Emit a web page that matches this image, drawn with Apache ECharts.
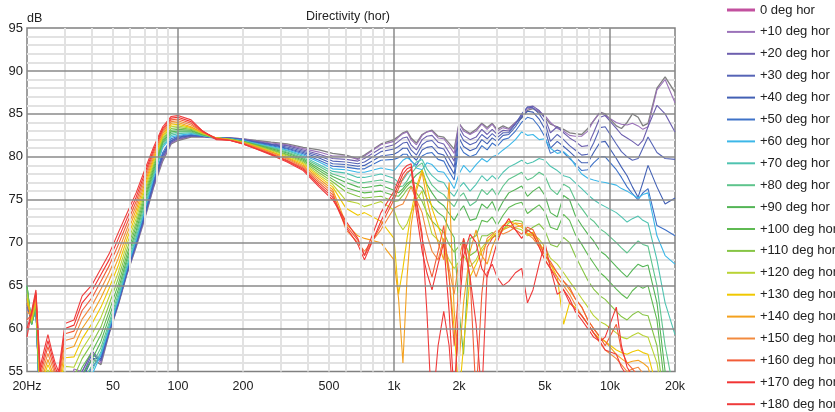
<!DOCTYPE html>
<html><head><meta charset="utf-8">
<script src="https://cdn.jsdelivr.net/npm/echarts@6/dist/echarts.min.js"></script>
<style>html,body{margin:0;padding:0;background:#fff}#c{width:835px;height:412px}</style>
</head><body><div id="c"></div>
<script>
// Frequencies (Hz) shared by all curves
const freqs = [20,21,22,23,24,25,26,27,28,30,33,36,40,44,48,53,58,64,70,77,85,93,100,115,130,150,
  175,200,230,270,320,380,450,520,600,680,730,870,
  1000,1050,1100,1150,1200,1270,1350,1420,1500,1600,1700,1800,1900,2000,2100,2250,2400,2550,2700,2850,
  3000,3200,3400,3650,3900,4150,4400,4700,5000,5300,5700,6100,6500,6900,7400,7900,8400,9000,9500,10700,
  11300,12000,12700,13500,14200,15000,16500,18000,20000];

const names = ['0 deg hor','+10 deg hor','+20 deg hor','+30 deg hor','+40 deg hor','+50 deg hor','+60 deg hor',
  '+70 deg hor','+80 deg hor','+90 deg hor','+100 deg hor','+110 deg hor','+120 deg hor','+130 deg hor',
  '+140 deg hor','+150 deg hor','+160 deg hor','+170 deg hor','+180 deg hor'];

// dB values per angle, one value per frequency above
const deg0 = [62.5,61,62.3,50,51,51.5,51,50,49,50,54.8,54.5,56.5,55.8,59.4,62.8,66.3,69.5,72.7,76.4,79.5,81.5,81.9,82.3,82.3,82.2,
  82.2,82.1,81.9,81.7,81.5,81.1,80.8,80.4,80.2,79.8,80.2,81.5,
  82.0,82.4,82.8,83.0,82.2,81.6,82.6,82.9,83.1,82.4, 82.3,81.6,80.9,83.9,83.2,82.7,83.2,83.9,83.4,83.9,
  83.2,83.6,83.3,84.0,84.5,85.4,85.6,85.2,84.6,83.8, 83.5,83.2,82.8,82.7,82.6,83.3,84.2,85.2,85.0,83.6,
  83.3,84.0,85.0,84.6,83.6,83.9,88.0,89.3,87.5];
const deg10 = [62.5,61,62.3,50,51,51.5,51,50,49,50,55.3,55.0,57.2,56.0,59.5,62.9,66.4,69.6,72.8,76.5,79.7,81.6,82.0,82.4,82.3,82.2,
  82.2,82.1,81.85,81.6,81.4,80.95,80.55,80.1,80.1,79.7,80.1,81.4,
  81.8,82.3,82.7,82.9,82.0,81.4,82.5,82.9,83.0,82.2, 82.1,81.3,80.4,83.9,83.0,82.6,83.0,83.8,83.2,83.8,
  83.0,83.4,83.2,84.0,84.7,85.6,85.7,85.3,84.8,84.0, 83.3,83.0,82.5,82.4,82.4,83.0,84.2,85.2,84.8,84.0,
  83.8,83.7,83.9,83.6,83.2,83.5,87.8,89.0,86.3];
const deg20 = [62.8,60.8,62.3,50,51,51.5,51,50,49,50,54.5,55.0,57.4,56.2,59.5,62.9,66.4,69.7,72.9,76.6,79.9,81.7,82.1,82.4,82.4,82.2,
  82.2,82.0,81.8,81.5,81.3,80.8,80.3,79.8,79.7,79.5,79.8,81.0,
  81.4,81.8,82.2,82.3,81.4,80.8,82.0,82.4,82.5,81.7, 81.5,80.5,79.5,83.5,82.5,82.0,82.3,83.2,82.6,83.2,
  82.6,83.1,83.0,83.9,84.8,85.8,85.9,85.4,84.5,82.8, 83.5,82.8,82.2,81.8,81.2,81.3,82.8,84.6,84.8,83.3,
  82.6,82.2,81.8,81.3,81.9,83.5,86.0,85.0,82.9];
const deg30 = [63,60.6,62.3,50,51,51.5,51,50,49,50,53.5,54.5,57.0,56.3,59.6,63.0,66.5,69.8,73.0,76.8,80.1,81.8,82.2,82.5,82.4,82.2,
  82.15,82.0,81.7,81.45,81.15,80.65,80.1,79.5,79.4,79.2,79.4,80.6,
  80.9,81.2,81.6,81.7,80.8,80.2,81.4,81.8,81.9,81.1, 80.9,79.8,78.8,82.9,81.9,81.4,81.7,82.6,82.1,82.7,
  82.2,82.8,82.8,83.8,85.0,85.8,85.7,85.0,84.0,81.8, 82.6,82.0,81.3,80.8,80.2,80.3,81.6,83.4,83.5,81.5,
  80.6,80.0,79.6,79.8,81.0,82.3,80.5,79.8,79.7];
const deg40 = [63.5,60.5,62.3,50,51,51.5,51,50,49,50,52.5,54.0,56.5,56.5,59.7,63.1,66.6,69.9,73.2,77.0,80.3,81.9,82.3,82.5,82.4,82.2,
  82.15,82.0,81.7,81.4,81.0,80.5,79.85,79.2,79.1,78.9,79.0,80.1,
  80.3,80.6,81.0,81.0,80.2,79.6,80.8,81.1,81.2,80.4, 80.2,79.0,78.0,82.2,81.2,80.7,81.0,82.0,81.5,82.2,
  81.8,82.5,82.6,83.5,84.6,85.3,85.2,84.4,83.2,81.0, 81.8,81.2,80.6,80.0,79.3,79.3,80.5,81.7,81.8,79.8,
  78.8,77.8,76.5,75.3,77.0,79.0,76.5,74.5,75.2];
const deg50 = [64,60.5,62.4,50,51,51.5,51,50,49,50,51.5,53.5,55.5,56.8,59.8,63.2,66.8,70.1,73.4,77.2,80.5,82.1,82.4,82.6,82.4,82.2,
  82.1,81.95,81.6,81.3,80.9,80.35,79.6,78.9,78.8,78.6,78.6,79.6,
  79.7,79.9,80.3,80.3,79.5,79.0,80.1,80.4,80.5,79.7, 79.5,78.3,77.3,81.4,80.5,80.0,80.3,81.3,80.8,81.6,
  81.2,82.0,82.2,83.0,84.0,84.6,84.4,83.5,82.3,80.4, 80.8,80.5,79.8,79.2,78.4,78.5,79.3,80.0,80.0,78.5,
  77.6,76.5,75.7,75.0,75.8,76.3,72.0,71.5,70.8];
const deg60 = [64.5,60.5,62.4,50,51,52,51.5,50.5,49,50,50.5,53.0,54.6,57.0,60.0,63.4,67.0,70.3,73.7,77.5,81.1,82.3,82.5,82.7,82.5,82.2,
  82.1,81.9,81.55,81.2,80.8,80.2,79.4,78.6,78.5,78.2,78.2,78.7,
  78.4,79.0,79.6,79.9,79.6,78.7,78.5,79.3,79.1,78.3, 78.2,77.3,76.3,78.0,79.0,78.2,79.1,79.8,79.4,80.0,
  80.2,80.8,81.3,82.0,82.9,82.5,82.6,82.0,82.1,81.0, 80.4,80.6,80.0,79.0,78.0,77.5,77.3,77.1,77.0,76.7,
  76.3,76.0,75.6,75.2,75.6,75.8,70.8,68.5,67.5];
const deg70 = [65,60.5,62.5,50,51.5,52.5,52,51,49.5,50.6,50.8,53.2,55.1,57.3,60.3,63.7,67.3,70.6,74.0,77.8,81.3,82.5,82.7,82.8,82.5,82.2,
  82.1,81.85,81.5,81.1,80.7,80.05,79.1,78.3,78.1,77.6,77.6,78.0,
  77.5,77.0,77.3,78.0,78.6,79.4,79.7,78.6,77.8,77.2, 77.0,76.0,75.4,76.4,77.0,76.0,76.8,77.8,77.2,77.8,
  77.3,78.2,78.8,79.2,79.6,79.2,79.4,79.8,79.6,78.9, 78.4,77.8,77.6,77.0,76.3,75.6,75.0,74.5,74.2,73.5,
  73.0,72.4,72.8,73.1,72.6,72.3,68.0,63.0,59.3];
const deg80 = [65,60.5,62.6,50.5,52,53,52.5,51.5,50,51.6,51.6,53.8,55.7,57.8,60.7,64.1,67.7,71.0,74.4,78.1,81.5,82.7,82.9,82.9,82.5,82.2,
  82.05,81.8,81.45,81.05,80.55,79.9,78.9,78.0,77.5,77.0,77.0,77.3,
  76.9,76.5,76.6,77.2,78.0,78.8,79.3,77.8,76.7,76.0, 75.6,74.8,74.2,75.3,75.8,74.3,74.8,76.2,75.6,76.3,
  75.4,76.6,77.4,77.8,78.2,77.3,77.6,78.2,77.8,76.3, 75.6,76.8,76.4,75.0,74.0,73.0,72.5,71.6,71.2,70.0,
  69.4,68.8,69.5,70.2,69.8,69.6,65.0,58.0,52.0];
const deg90 = [65,60.5,62.7,51,52.5,53.5,53,52,50.5,52.6,52.5,54.6,56.4,58.5,61.3,64.6,68.1,71.4,74.8,78.4,81.7,82.9,83.0,83.0,82.6,82.2,
  82.05,81.8,81.4,80.95,80.45,79.75,78.65,77.7,77.0,76.5,76.4,76.7,
  76.1,75.8,76.3,76.9,77.2,77.9,78.4,76.8,75.8,74.8, 74.3,73.4,72.6,73.6,74.3,72.6,72.8,74.5,74.0,74.8,
  73.5,74.8,75.8,76.2,76.6,75.4,76.0,76.5,75.5,73.5, 73.0,75.5,75.0,73.2,72.0,71.0,70.2,69.0,68.6,67.2,
  66.6,66.0,66.8,67.5,67.2,67.4,63.0,55.0,50.0];
const deg100 = [64.8,60.5,62.8,51.5,53,54,53.5,52.5,51,53.6,53.4,55.5,57.3,59.3,62.0,65.2,68.6,71.9,75.2,78.7,81.9,83.1,83.2,83.1,82.6,82.2,
  82.05,81.75,81.35,80.85,80.3,79.6,78.4,77.4,76.4,76.0,75.8,76.0,
  75.5,75.4,76.0,76.6,77.1,76.9,76.4,75.2,74.3,73.5, 73.0,71.6,70.6,62.0,57.0,70.5,70.8,72.6,72.4,73.0,
  72.0,73.2,74.1,74.5,74.7,73.4,73.9,74.4,73.6,71.8, 71.5,73.3,72.6,71.0,69.8,68.6,67.6,66.5,66.0,64.6,
  64.0,63.5,64.4,65.0,64.7,65.0,61.0,53.0,48.0];
const deg110 = [64.5,60.6,63.0,52,53.5,54.6,54,53,51.5,54.6,54.4,56.5,58.3,60.2,62.8,65.9,69.2,72.3,75.6,79.0,82.1,83.3,83.4,83.2,82.7,82.2,
  82.0,81.75,81.3,80.8,80.2,79.45,78.15,77.1,75.9,75.4,75.2,75.4,
  74.8,74.9,75.5,76.2,76.6,75.8,74.8,73.5,72.5,71.8, 71.2,69.8,68.9,69.6,70.2,68.5,69.0,70.8,70.8,71.2,
  70.5,71.5,72.3,72.6,72.5,71.3,71.8,72.2,71.4,69.8, 69.5,70.6,70.0,68.5,67.0,65.6,64.6,63.8,63.4,62.0,
  61.4,61.0,61.6,62.0,61.6,61.5,58.0,51.0,46.0];
const deg120 = [64,60.8,63.2,52.5,54,55.2,54.4,53.4,52,55.6,55.5,57.6,59.4,61.3,63.7,66.6,69.8,72.8,76.0,79.3,82.3,83.5,83.6,83.3,82.7,82.2,
  82.0,81.7,81.25,80.7,80.1,79.3,77.9,76.8,74.9,74.6,74.2,74.8,
  73.8,72.3,71.5,72.2,73.5,75.0,76.0,73.2,71.0,70.3, 69.5,68.0,67.0,67.8,68.5,67.2,68.0,69.4,70.2,70.6,
  71.0,71.6,72.0,71.7,71.5,70.8,71.0,70.4,69.5,68.2, 67.5,66.5,65.5,64.6,63.5,62.5,61.5,60.8,60.5,59.5,
  59.0,58.8,59.2,59.5,59.2,59.0,56.0,50.0,45.0];
const deg130 = [63.5,61.0,63.4,53,54.5,55.8,54.8,53.8,52.5,56.6,56.7,58.8,60.6,62.5,64.7,67.4,70.4,73.3,76.4,79.6,82.5,83.7,83.8,83.4,82.8,82.2,
  82.0,81.65,81.2,80.6,79.95,79.15,77.7,76.5,74.0,73.2,73.5,72.5,
  70.5,64.0,67.0,70.5,73.5,76.5,78.5,76.5,74.0,72.0, 70.0,66.0,60.0,52.0,58.0,66.0,67.5,69.0,70.0,70.8,
  71.2,72.0,72.5,72.2,71.8,71.0,71.2,70.0,69.0,67.5, 66.0,60.5,63.0,62.5,61.5,60.5,59.5,58.8,58.5,57.5,
  57.2,57.0,57.3,57.5,57.2,57.0,53.0,49.0,45.0];
const deg140 = [63,61.2,63.6,53.5,55.0,56.4,55.2,54.2,53,57.6,57.9,60.0,61.7,63.6,65.6,68.2,71.0,73.8,76.8,79.9,82.7,83.9,84.0,83.5,82.8,82.2,
  81.95,81.65,81.15,80.55,79.85,79.0,77.45,76.2,72.2,70.8,70.5,70.0,
  68.0,63.5,56.0,66.0,72.0,76.0,78.2,75.0,72.5,70.0, 68.0,77.0,62.0,56.0,63.0,69.0,71.5,68.5,67.5,69.5,
  70.8,71.5,71.8,72.3,72.2,71.0,70.8,69.8,68.5,67.5, 66.5,65.5,64.5,63.5,62.5,61.0,60.0,59.0,58.5,57.0,
  56.5,56.0,56.2,56.3,56.0,55.5,52.0,49.0,45.0];
const deg150 = [62,61.4,63.8,54,55.6,57.1,55.8,54.6,53.5,58.6,58.9,61.1,62.7,64.6,66.5,69.0,71.6,74.3,77.2,80.2,82.9,84.1,84.2,83.7,82.9,82.2,
  81.95,81.6,81.1,80.45,79.75,78.85,77.2,75.9,71.5,70.0,69.0,71.5,
  74.0,74.3,74.5,75.5,76.5,75.0,73.5,71.0,69.0,68.0, 70.5,67.0,64.0,68.0,70.5,68.0,66.0,68.0,70.5,71.0,
  71.5,71.0,71.3,71.8,72.0,71.0,70.5,69.5,68.0,67.0, 66.0,65.0,64.0,62.8,61.5,60.5,59.5,58.3,57.5,56.5,
  55.8,55.0,55.3,55.5,54.8,54.0,50.0,48.0,45.0];
const deg160 = [61,61.6,64.0,54.5,56.2,57.9,56.4,55,54,59.4,59.7,62.1,63.6,65.5,67.3,69.8,72.2,74.8,77.6,80.5,83.1,84.3,84.4,83.9,82.9,82.2,
  81.9,81.55,81.0,80.35,79.6,78.7,76.95,75.6,72.0,70.3,68.5,72.0,
  75.0,76.3,77.5,78.2,78.5,74.5,70.5,68.0,66.0,69.0, 72.0,66.0,58.0,65.0,70.0,66.0,52.0,64.0,69.5,70.5,
  71.0,72.0,72.0,71.5,71.0,71.8,71.5,70.0,68.5,67.8, 66.5,65.5,64.8,63.5,62.5,61.0,60.0,59.0,58.0,60.5,
  57.5,56.0,55.3,54.5,53.8,53.0,49.0,47.0,45.0];
const deg170 = [60,61.8,64.2,55,56.8,58.6,57,55.5,54.5,60.0,60.4,63.0,64.4,66.3,68.0,70.5,72.8,75.3,78.0,80.8,83.3,84.5,84.6,84.1,83.0,82.1,
  81.9,81.5,80.95,80.3,79.5,78.55,76.7,75.3,71.8,69.8,68.0,72.5,
  75.5,76.8,78.0,78.6,78.8,73.5,69.0,66.5,64.5,67.5, 70.0,62.0,52.0,62.0,68.5,71.0,70.0,67.0,66.0,68.0,
  70.0,71.8,72.8,71.5,70.5,71.5,71.0,69.5,68.0,67.0, 65.5,64.5,63.5,62.0,61.0,60.0,59.0,58.5,59.0,62.5,
  58.0,55.5,54.5,53.5,52.8,52.0,48.0,46.0,44.0];
const deg180 = [59,62,64.5,55.5,57.5,59.3,57.5,56,55,60.6,61,63.8,65.1,67,68.7,71.2,73.4,75.8,78.4,81.1,83.5,84.7,84.8,84.3,83.0,82.0,
  81.9,81.5,80.9,80.2,79.4,78.4,76.5,75.0,72.5,70.5,68.5,73.5,
  76.0,77.3,78.5,79.0,79.2,75.0,71.0,62.0,50.0,58.0, 62.0,58.0,50.0,64.0,70.5,66.0,60.5,52.0,66.5,67.5,
  66.0,65.0,65.5,66.5,67.0,63.0,64.5,67.5,70.0,67.0, 64.0,64.5,63.0,62.3,61.5,60.5,59.5,58.5,57.5,57.0,
  55.5,54.5,53.0,52.0,51.0,50.0,47.0,45.0,43.0];

const curves = [deg0,deg10,deg20,deg30,deg40,deg50,deg60,deg70,deg80,deg90,deg100,deg110,deg120,deg130,deg140,deg150,deg160,deg170,deg180];
curves.forEach((c, i) => { if (c.length !== freqs.length) throw new Error('length mismatch in curve ' + i + ': ' + c.length + ' vs ' + freqs.length); });

const legendColors = ['#c2509f','#9b72b9','#6d5fae','#5664b6','#4260b4','#3f72c8','#3cb7e8','#4fc3b0','#5ec48c','#54b556',
  '#5fba52','#86c545','#b9d335','#f0c800','#f4a11e','#f28a3e','#f25c38','#f23434','#ef3b3b'];
const lineColors = ['#7f7f7f'].concat(legendColors.slice(1));

// x-axis tick labels and grid lines
const tickValues = [20,50,100,200,500,1000,2000,5000,10000,20000];
const tickLabels = ['20Hz','50','100','200','500','1k','2k','5k','10k','20k'];
const gridLightX = [30,40,50,60,70,80,90,200,300,400,500,600,700,800,900,2000,3000,4000,5000,6000,7000,8000,9000];
const gridDarkX = [100,1000,10000];
const gridDarkY = [60,65,70,75,80,85,90];

const FONT = '"Liberation Sans", Arial, Helvetica, sans-serif';
const chart = echarts.init(document.getElementById('c'), null, {renderer: 'canvas'});

const LIGHT = {color: '#e2e2e2', width: 2, type: 'solid'};
const DARK = {color: '#8a8a8a', width: 1.5, type: 'solid'};
const NONE = {color: 'rgba(255,255,255,0)', width: 1, type: 'solid'};
function tickLabel(v) {
  const i = tickValues.indexOf(v);
  return i >= 0 ? {show: true, formatter: tickLabels[i]} : {show: false};
}
const mlData = [];
gridLightX.forEach(v => mlData.push({xAxis: v, lineStyle: LIGHT, label: tickLabel(v)}));
gridDarkY.forEach(v => mlData.push({yAxis: v, lineStyle: DARK, label: {show: false}}));
gridDarkX.forEach(v => mlData.push({xAxis: v, lineStyle: DARK, label: tickLabel(v)}));
tickValues.filter(v => gridLightX.indexOf(v) < 0 && gridDarkX.indexOf(v) < 0)
  .forEach(v => mlData.push({xAxis: v, lineStyle: NONE, label: tickLabel(v)}));

const series = [{
  name: '__grid', type: 'line', data: [], z: 1, silent: true, animation: false,
  markLine: {
    silent: true, animation: false, symbol: ['none', 'none'],
    label: {position: 'start', distance: 9, color: '#222', fontSize: 12.5, fontFamily: FONT},
    emphasis: {disabled: true},
    data: mlData
  }
}];
curves.forEach((vals, i) => {
  series.push({
    name: names[i], type: 'line', z: 3, animation: false, symbol: 'none', showSymbol: false,
    clip: true, silent: true,
    lineStyle: {width: i === 0 ? 1.3 : 1.1, color: lineColors[i]},
    itemStyle: {color: lineColors[i]},
    data: freqs.map((f, j) => [f, vals[j]])
  });
});

chart.setOption({
  animation: false,
  textStyle: {fontFamily: FONT},
  title: [
    {text: 'Directivity (hor)', left: 348, top: 10, textAlign: 'center', padding: 0,
      textStyle: {fontSize: 12.5, fontWeight: 'normal', color: '#222', fontFamily: FONT}},
    {text: 'dB', left: 27, top: 12, padding: 0,
      textStyle: {fontSize: 12.5, fontWeight: 'normal', color: '#222', fontFamily: FONT}}
  ],
  legend: {
    orient: 'vertical', left: 727, top: 3, itemWidth: 28, itemHeight: 14, itemGap: 7.9,
    selectedMode: false, padding: 0,
    textStyle: {fontSize: 13, color: '#222', fontFamily: FONT, lineHeight: 14},
    data: names.map((n, i) => ({name: n,
      icon: i === 0 ? 'path://M0,0L28,0L28,3L0,3Z' : 'path://M0,0L28,0L28,2L0,2Z',
      itemStyle: {color: legendColors[i]}}))
  },
  grid: {left: 27, right: 160, top: 28, bottom: 40.5, show: true, borderColor: '#808080', borderWidth: 1.5, backgroundColor: 'rgba(0,0,0,0)'},
  xAxis: {type: 'log', logBase: 10, min: 20, max: 20000,
    axisLabel: {show: false}, axisTick: {show: false}, axisLine: {show: false},
    splitLine: {show: false}, minorTick: {show: false}, minorSplitLine: {show: false}},
  yAxis: {type: 'value', min: 55, max: 95, interval: 5,
    axisLabel: {margin: 4, color: '#222', fontSize: 13, fontFamily: FONT},
    axisTick: {show: false}, axisLine: {show: false},
    splitLine: {show: false},
    minorTick: {show: false, splitNumber: 5},
    minorSplitLine: {show: true, lineStyle: {color: '#e2e2e2', width: 2}}},
  series: series
});
</script></body></html>
